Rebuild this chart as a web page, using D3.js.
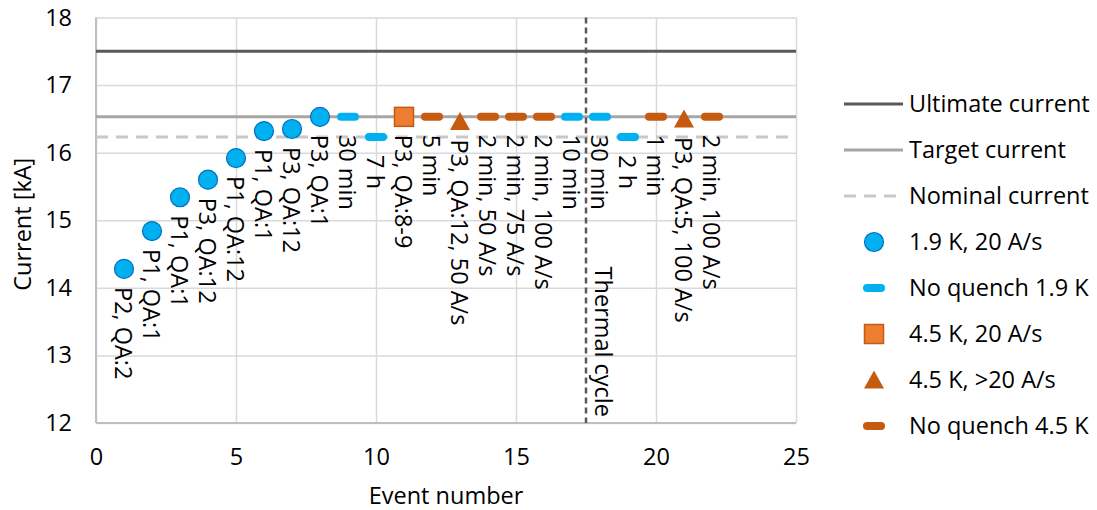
<!DOCTYPE html>
<html>
<head>
<meta charset="utf-8">
<script src="https://cdn.jsdelivr.net/npm/d3@7"></script>
<style>
  body { margin: 0; background: #fff; }
  svg text { font-family: "Open Sans", "Noto Sans", sans-serif; fill: #000; }
</style>
</head>
<body>
<div id="chart"></div>
<script>
// 1.9 K, 20 A/s quenches
var quench19Events = [1, 2, 3, 4, 5, 6, 7, 8];
var quench19Current = [14.28, 14.84, 15.34, 15.6, 15.92, 16.32, 16.35, 16.53];
var quench19Labels = ['P2, QA:2', 'P1, QA:1', 'P1, QA:1', 'P3, QA:12', 'P1, QA:12', 'P1, QA:1', 'P3, QA:12', 'P3, QA:1'];

// no quench at 1.9 K
var noQuench19Events = [9, 10, 17, 18, 19];
var noQuench19Current = [16.53, 16.23, 16.53, 16.53, 16.23];
var noQuench19Labels = ['30 min', '7 h', '10 min', '30 min', '2 h'];

// 4.5 K, 20 A/s
var quench45Events = [11];
var quench45Current = [16.53];
var quench45Labels = ['P3, QA:8-9'];

// 4.5 K, > 20 A/s
var quench45FastEvents = [13, 21];
var quench45FastCurrent = [16.46, 16.5];
var quench45FastLabels = ['P3, QA:12, 50 A/s', 'P3, QA:5, 100 A/s'];

// no quench at 4.5 K
var noQuench45Events = [12, 14, 15, 16, 20, 22];
var noQuench45Current = [16.53, 16.53, 16.53, 16.53, 16.53, 16.53];
var noQuench45Labels = ['5 min', '2 min, 50 A/s', '2 min, 75 A/s', '2 min, 100 A/s', '1 min', '2 min, 100 A/s'];

var ultimateCurrent = 17.5;
var targetCurrent = 16.53;
var nominalCurrent = 16.23;
var thermalCycleAt = 17.5;

var xTicks = [0, 5, 10, 15, 20, 25];
var yTicks = [12, 13, 14, 15, 16, 17, 18];
var legendNames = ['Ultimate current', 'Target current', 'Nominal current', '1.9 K, 20 A/s',
    'No quench 1.9 K', '4.5 K, 20 A/s', '4.5 K, >20 A/s', 'No quench 4.5 K'];

var width = 1097, height = 510;
var margin = { left: 96, top: 17.5, right: 301, bottom: 87 };
var plotW = width - margin.left - margin.right;
var plotH = height - margin.top - margin.bottom;
var fontSize = 23.5;

var BLUE = '#00b0f0', BLUE_DARK = '#0070c0';
var ORANGE = '#ed7d31', ORANGE_DARK = '#c55a11';

var x = d3.scaleLinear().domain([0, 25]).range([0, plotW]);
var y = d3.scaleLinear().domain([12, 18]).range([plotH, 0]);

var svg = d3.select('#chart').append('svg')
    .attr('width', width)
    .attr('height', height);

var g = svg.append('g')
    .attr('transform', 'translate(' + margin.left + ',' + margin.top + ')');

// axes + gridlines
var xAxis = g.append('g')
    .attr('transform', 'translate(0,' + plotH + ')')
    .call(d3.axisBottom(x).tickValues(xTicks).tickFormat(d3.format('d')).tickSize(-plotH).tickPadding(25));
var yAxis = g.append('g')
    .call(d3.axisLeft(y).tickValues(yTicks).tickFormat(d3.format('d')).tickSize(-plotW).tickPadding(24));

[xAxis, yAxis].forEach(function (ax) {
    ax.select('.domain').remove();
    ax.selectAll('line').attr('stroke', '#d9d9d9').attr('stroke-width', 1.5);
    ax.selectAll('text')
        .attr('font-size', fontSize)
        .attr('font-family', '"Open Sans", "Noto Sans", sans-serif')
        .attr('fill', '#000');
});

g.append('line')
    .attr('x1', 0).attr('x2', 0).attr('y1', 0).attr('y2', plotH)
    .attr('stroke', '#bfbfbf').attr('stroke-width', 2);
g.append('line')
    .attr('x1', 0).attr('x2', plotW).attr('y1', plotH).attr('y2', plotH)
    .attr('stroke', '#bfbfbf').attr('stroke-width', 2);

// axis titles
svg.append('text')
    .attr('x', margin.left + plotW / 2)
    .attr('y', 496)
    .attr('dy', '0.35em')
    .attr('text-anchor', 'middle')
    .attr('font-size', fontSize)
    .text('Event number');

svg.append('text')
    .attr('transform', 'translate(23,' + (margin.top + plotH / 2 + 4) + ') rotate(-90)')
    .attr('dy', '0.35em')
    .attr('text-anchor', 'middle')
    .attr('font-size', fontSize)
    .text('Current [kA]');

// reference levels
var refLines = [
    { v: ultimateCurrent, color: '#595959', dash: null },
    { v: targetCurrent, color: '#a6a6a6', dash: null },
    { v: nominalCurrent, color: '#c8c8c8', dash: '12,8' }
];
refLines.forEach(function (r) {
    g.append('line')
        .attr('x1', 0).attr('x2', plotW)
        .attr('y1', y(r.v)).attr('y2', y(r.v))
        .attr('stroke', r.color)
        .attr('stroke-width', 3)
        .attr('stroke-dasharray', r.dash);
});

// thermal cycle marker
g.append('line')
    .attr('x1', x(thermalCycleAt)).attr('x2', x(thermalCycleAt))
    .attr('y1', 0).attr('y2', plotH)
    .attr('stroke', '#595959')
    .attr('stroke-width', 2.5)
    .attr('stroke-dasharray', '6,4');
g.append('text')
    .attr('transform', 'translate(' + (x(thermalCycleAt) + 17) + ',' + (plotH - 6) + ') rotate(90)')
    .attr('dy', '0.35em')
    .attr('text-anchor', 'end')
    .attr('font-size', fontSize)
    .text('Thermal cycle');

// marker drawers
var drawCircle = function (sel) {
    sel.append('circle')
        .attr('r', 9.5)
        .attr('fill', BLUE)
        .attr('stroke', BLUE_DARK)
        .attr('stroke-width', 1.2);
};
var drawDash = function (color) {
    return function (sel) {
        sel.append('rect')
            .attr('x', -11).attr('y', -4)
            .attr('width', 22).attr('height', 8)
            .attr('rx', 4)
            .attr('fill', color);
    };
};
var drawSquare = function (sel) {
    sel.append('rect')
        .attr('x', -9.5).attr('y', -9.5)
        .attr('width', 19).attr('height', 19)
        .attr('fill', ORANGE)
        .attr('stroke', ORANGE_DARK)
        .attr('stroke-width', 1.5);
};
var drawTriangle = function (sel) {
    sel.append('path')
        .attr('d', 'M0,-9.5L10,8.5L-10,8.5Z')
        .attr('fill', ORANGE_DARK);
};
var drawLine = function (color, dash) {
    return function (sel) {
        sel.append('line')
            .attr('x1', -30).attr('x2', 29)
            .attr('stroke', color)
            .attr('stroke-width', 3)
            .attr('stroke-dasharray', dash);
    };
};

var series = [
    { xs: noQuench19Events, ys: noQuench19Current, labels: noQuench19Labels, draw: drawDash(BLUE) },
    { xs: noQuench45Events, ys: noQuench45Current, labels: noQuench45Labels, draw: drawDash(ORANGE_DARK) },
    { xs: quench19Events, ys: quench19Current, labels: quench19Labels, draw: drawCircle },
    { xs: quench45Events, ys: quench45Current, labels: quench45Labels, draw: drawSquare },
    { xs: quench45FastEvents, ys: quench45FastCurrent, labels: quench45FastLabels, draw: drawTriangle }
];

series.forEach(function (s) {
    var pts = s.xs.map(function (d, i) { return { x: d, y: s.ys[i], label: s.labels[i] }; });
    var pg = g.append('g').selectAll('g')
        .data(pts)
        .enter()
        .append('g')
        .attr('transform', function (d) { return 'translate(' + x(d.x) + ',' + y(d.y) + ')'; });
    s.draw(pg);
});

// data labels (separately so they sit over everything)
series.forEach(function (s) {
    var pts = s.xs.map(function (d, i) { return { x: d, y: s.ys[i], label: s.labels[i] }; });
    g.append('g').selectAll('text')
        .data(pts)
        .enter()
        .append('text')
        .attr('transform', function (d) {
            return 'translate(' + (x(d.x) - 1) + ',' + (y(d.y) + 18) + ') rotate(90)';
        })
        .attr('dy', '0.35em')
        .attr('font-size', fontSize)
        .text(function (d) { return d.label; });
});

// legend
var legendDraw = [
    drawLine('#595959', null),
    drawLine('#a6a6a6', null),
    drawLine('#c8c8c8', '12,8'),
    drawCircle,
    drawDash(BLUE),
    drawSquare,
    drawTriangle,
    drawDash(ORANGE_DARK)
];
var legend = svg.append('g').attr('transform', 'translate(874,104)');
var legendItem = legend.selectAll('g')
    .data(legendNames)
    .enter()
    .append('g')
    .attr('transform', function (d, i) { return 'translate(0,' + (i * 46) + ')'; });
legendItem.each(function (d, i) { legendDraw[i](d3.select(this)); });
legendItem.append('text')
    .attr('x', 35)
    .attr('dy', '0.35em')
    .attr('font-size', fontSize)
    .text(function (d) { return d; });
</script>
</body>
</html>
